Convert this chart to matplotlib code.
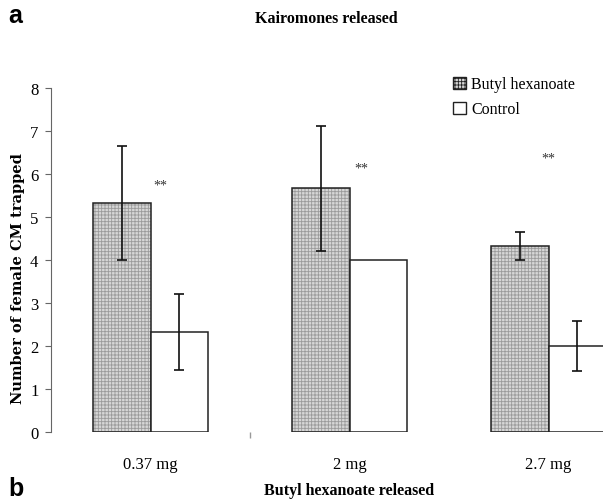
import numpy as np
import matplotlib
matplotlib.use('Agg')
import matplotlib.pyplot as plt
from matplotlib.patches import Patch

# Дані
doses = ['0.37 mg', '2 mg', '2.7 mg']
butyl = [5.33, 5.67, 4.33]
butyl_err = [1.33, 1.45, 0.33]
control = [2.33, 4.0, 2.0]
control_err = [0.88, 0.0, 0.57]
star_x = [0.05, 1.06, 2.0]
star_y = [5.75, 6.15, 6.38]

plt.rcParams['font.family'] = 'Liberation Serif'
plt.rcParams['hatch.linewidth'] = 0.6

fig = plt.figure(figsize=(6.03, 5.02), dpi=100)
ax = fig.add_axes([51 / 603, 69 / 502, 597 / 603, 344 / 502])

x = np.arange(len(doses))
w = 0.29

ax.bar(x - w / 2, butyl, w, color='#d6d6d6', edgecolor='#9a9a9a', hatch='+++++', linewidth=0)
ax.bar(x - w / 2, butyl, w, fill=False, edgecolor='#222222', linewidth=1.1)
ax.bar(x + w / 2, control, w, color='white', edgecolor='#222222', linewidth=1.1)

ax.errorbar(x - w / 2, butyl, yerr=butyl_err, fmt='none', ecolor='#111111',
            elinewidth=1.2, capsize=3.5, capthick=1.2)
ce = [e if e > 0 else np.nan for e in control_err]
ax.errorbar(x + w / 2, control, yerr=ce, fmt='none', ecolor='#111111',
            elinewidth=1.2, capsize=3.5, capthick=1.2)

for sx, sy in zip(star_x, star_y):
    ax.text(sx, sy, '**', ha='center', va='center', fontsize=10, color='#333333')

ax.set_xlim(-0.5, 2.5)
ax.set_ylim(0, 8)
ax.set_yticks(range(0, 9))
ax.set_xticks(x)
ax.set_xticklabels(doses, fontsize=12)
ax.set_xticks([0.5], minor=True)
ax.tick_params(axis='x', which='major', length=0, pad=17)
ax.tick_params(axis='x', which='minor', length=4, color='#999999', width=1)
ax.tick_params(axis='y', labelsize=12, length=4, color='#666666', pad=5)
for s in ['top', 'right', 'bottom']:
    ax.spines[s].set_visible(False)
ax.spines['left'].set_color('#666666')
ax.set_ylabel('Number of female CM trapped', fontsize=10.5, fontweight='bold',
              family='DejaVu Serif')
ax.yaxis.set_label_coords(-0.0436, 0.45)

handles = [Patch(facecolor='#d6d6d6', edgecolor='#222222', hatch='+++++'),
           Patch(facecolor='white', edgecolor='#222222')]
fig.legend(handles, ['Butyl hexanoate', 'Control'], loc='upper left',
           bbox_to_anchor=(439 / 603, 1 - 63 / 502), frameon=False, fontsize=11.5,
           handlelength=0.8, handleheight=0.8, handletextpad=0.3, labelspacing=0.55)

fig.text(8 / 603, 1 - 16 / 502, 'a', fontsize=18, fontweight='bold',
         family='Liberation Sans', ha='left', va='center')
fig.text(326 / 603, 1 - 19 / 502, 'Kairomones released', fontsize=11.5,
         fontweight='bold', ha='center', va='center')
fig.text(8 / 603, 1 - 489 / 502, 'b', fontsize=18, fontweight='bold',
         family='Liberation Sans', ha='left', va='center')
fig.text(349 / 603, 1 - 491 / 502, 'Butyl hexanoate released', fontsize=11.5,
         fontweight='bold', ha='center', va='center')

fig.savefig('out.png', dpi=100)
